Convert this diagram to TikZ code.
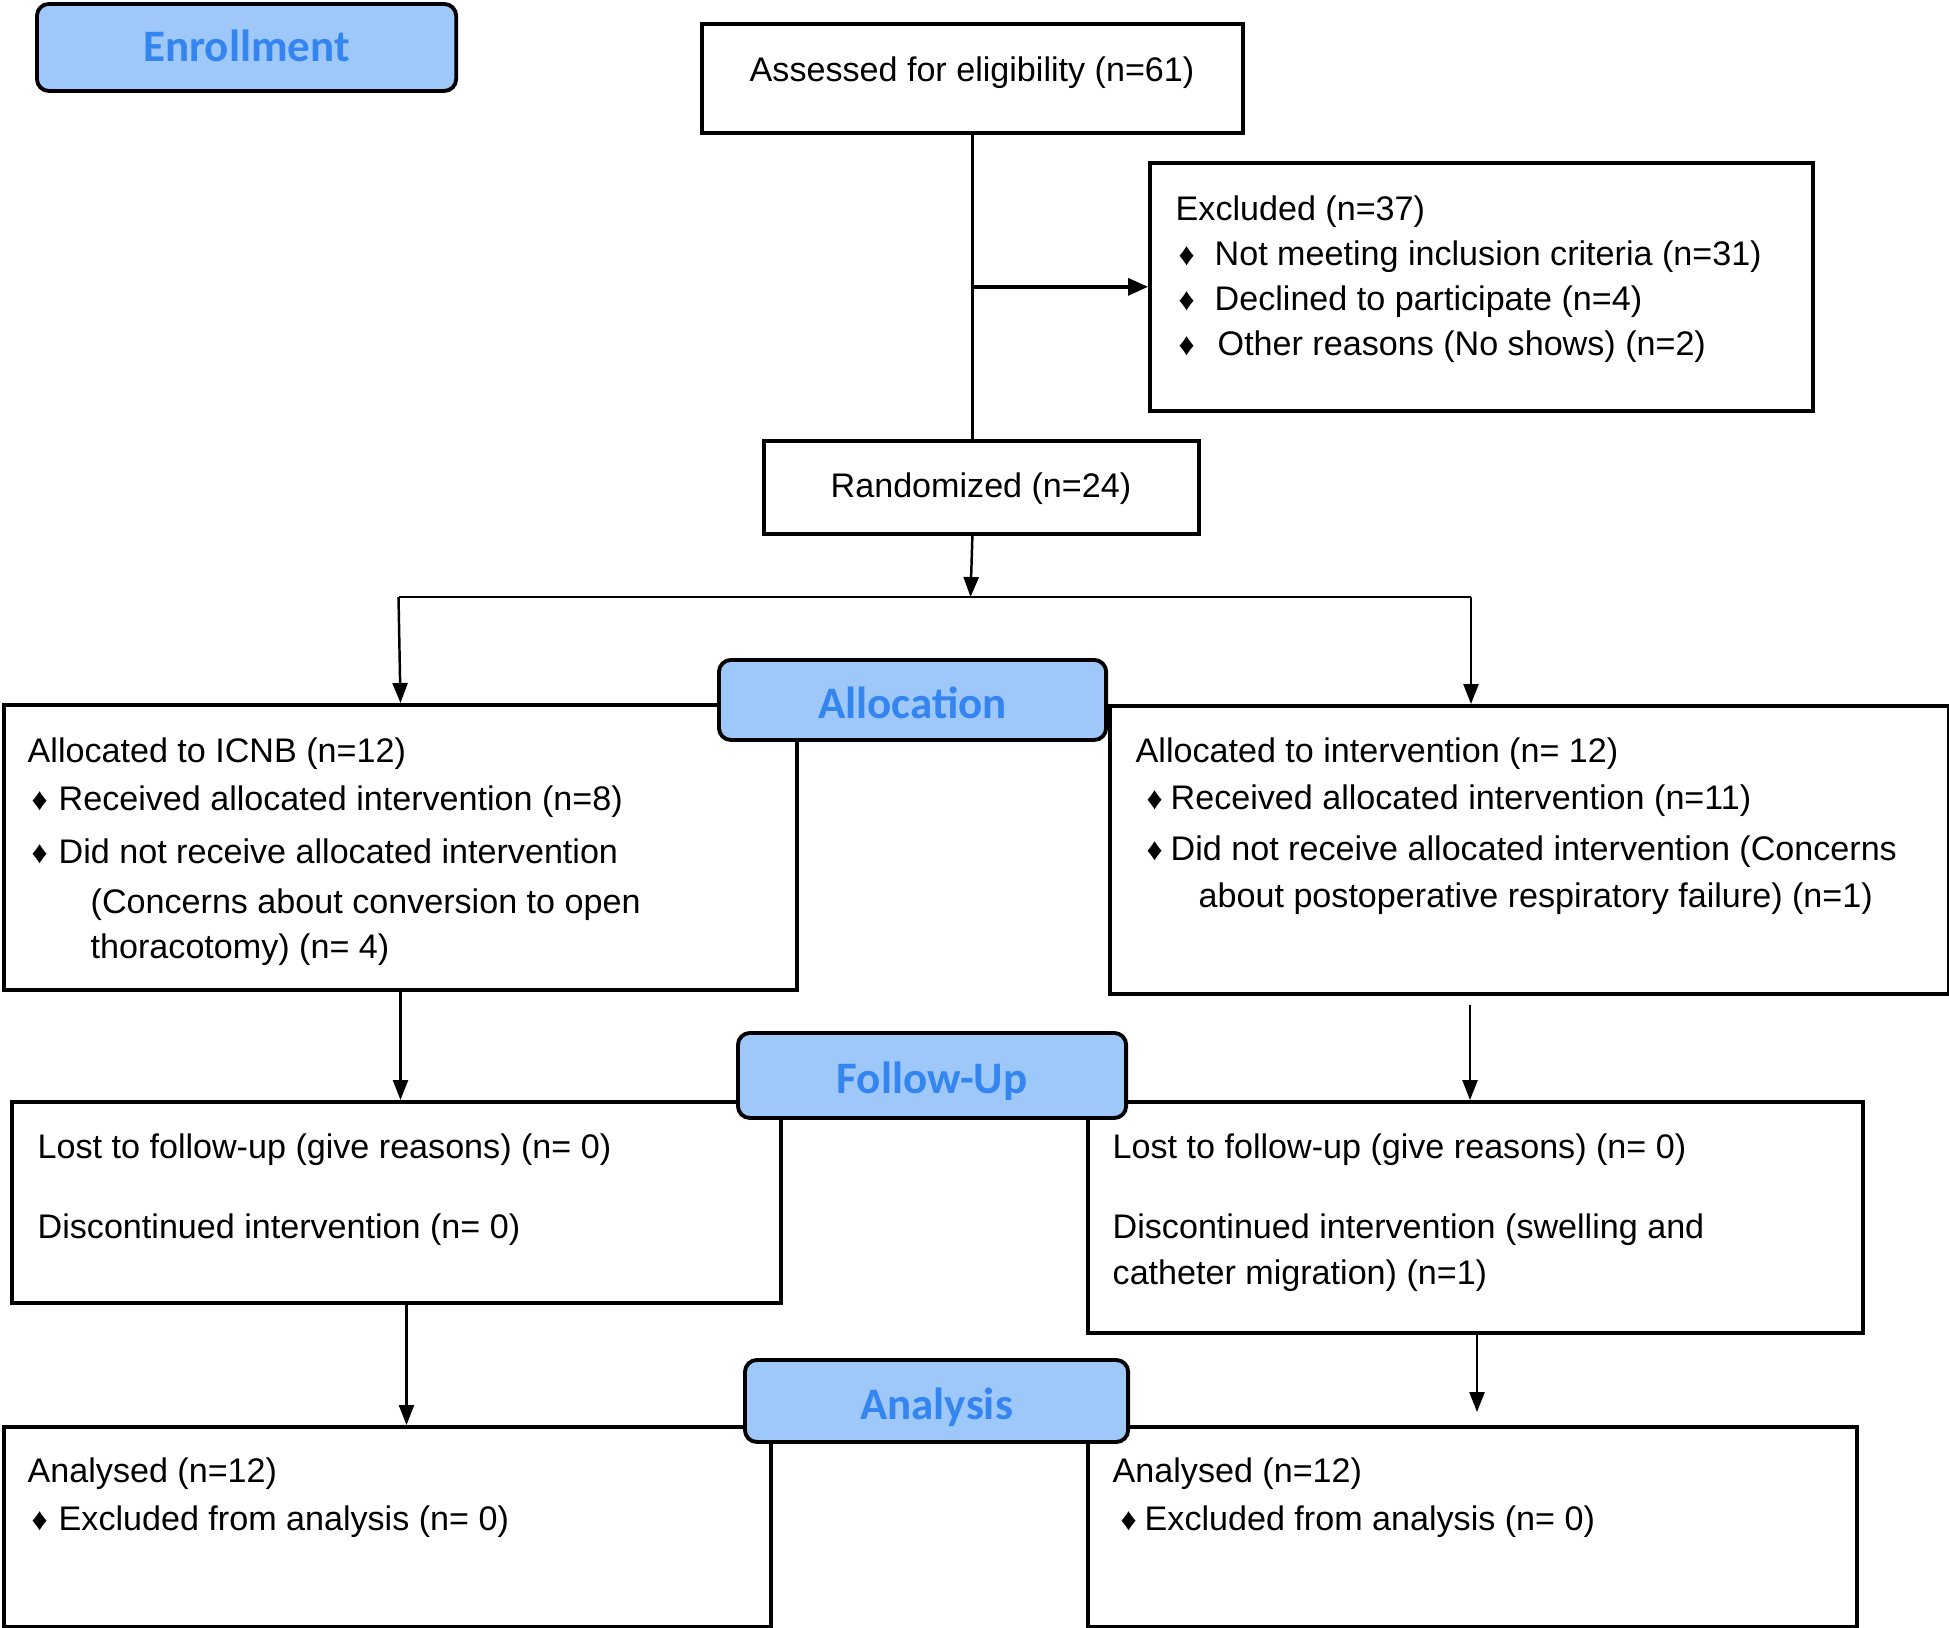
\documentclass[tikz,border=0pt]{standalone}
\usepackage{fontspec}
\setmainfont{Liberation Sans}
\newfontfamily\labfont{Carlito}
\usetikzlibrary{arrows.meta}
\definecolor{labfill}{RGB}{158,199,250}
\definecolor{labtext}{RGB}{52,133,240}
\tikzset{
 box/.style={draw, line width=1pt, rectangle, anchor=north west, inner sep=0, fill=white},
 lab/.style={draw, line width=1.1pt, rounded corners=0.12cm, fill=labfill, text=labtext, anchor=north west, font=\labfont\bfseries\fontsize{12.8}{14}\selectfont, inner sep=0, text height=0.37cm, text depth=0pt},
 txt/.style={anchor=base west, inner sep=0, font=\fontsize{9.7}{11.6}\selectfont},
 bul/.style={anchor=base west, inner sep=0, font=\fontsize{9}{10}\selectfont},
 conn/.style={line width=0.7pt},
 arr/.style={conn, -{Triangle[length=0.2cm,width=0.15cm]}},
 arrx/.style={line width=1pt, -{Triangle[length=0.2cm,width=0.17cm]}},
}
\newcommand\mytext[4]{\node[txt] (#1) at (#2,#3) {#4};}
\newcommand\mybul[3]{\node[bul] (#1) at (#2,#3) {♦};}
\begin{document}
\begin{tikzpicture}[x=0.01cm,y=-0.01cm]
\useasboundingbox (0,0) rectangle (1949,1627);
% boxes
\node[box, minimum width=5.41cm, minimum height=1.09cm] (assess) at (700,22) {};
\node[box, minimum width=6.63cm, minimum height=2.48cm] (excl) at (1148,161) {};
\node[box, minimum width=4.35cm, minimum height=0.93cm] (rand) at (762,439) {};
\node[box, minimum width=7.93cm, minimum height=2.85cm] (allocL) at (2,703) {};
\node[box, minimum width=8.38cm, minimum height=2.88cm] (allocR) at (1108,704) {};
\node[box, minimum width=7.69cm, minimum height=2.01cm] (fuL) at (10,1100) {};
\node[box, minimum width=7.75cm, minimum height=2.31cm] (fuR) at (1086,1100) {};
\node[box, minimum width=7.67cm, minimum height=2.00cm] (anL) at (2,1425) {};
\node[box, minimum width=7.69cm, minimum height=2.00cm] (anR) at (1086,1425) {};
% texts
\mytext{t1}{749}{81}{Assessed for eligibility (n=61)}
\mytext{t2}{1175}{220}{Excluded (n=37)}
\mybul{b1}{1178}{265}\mytext{t3}{1214}{265}{Not meeting inclusion criteria (n=31)}
\mybul{b2}{1178}{310}\mytext{t4}{1214}{310}{Declined to participate (n=4)}
\mybul{b3}{1178}{355}\mytext{t5}{1217}{355}{Other reasons (No shows) (n=2)}
\mytext{t6}{830}{497}{Randomized (n=24)}
\mytext{t7}{27}{762}{Allocated to ICNB (n=12)}
\mybul{b4}{31}{810}\mytext{t8}{58}{810}{Received allocated intervention (n=8)}
\mybul{b5}{31}{863}\mytext{t9}{58}{863}{Did not receive allocated intervention}
\mytext{t10}{90}{913}{(Concerns about conversion to open}
\mytext{t11}{90}{958}{thoracotomy) (n= 4)}
\mytext{t12}{1135}{762}{Allocated to intervention (n= 12)}
\mybul{b6}{1146}{809}\mytext{t13}{1170}{809}{Received allocated intervention (n=11)}
\mybul{b7}{1146}{860}\mytext{t14}{1170}{860}{Did not receive allocated intervention (Concerns}
\mytext{t15}{1198}{907}{about postoperative respiratory failure) (n=1)}
\mytext{t16}{37}{1158}{Lost to follow-up (give reasons) (n= 0)}
\mytext{t17}{37}{1238}{Discontinued intervention (n= 0)}
\mytext{t18}{1112}{1158}{Lost to follow-up (give reasons) (n= 0)}
\mytext{t19}{1112}{1238}{Discontinued intervention (swelling and}
\mytext{t20}{1112}{1284}{catheter migration) (n=1)}
\mytext{t21}{27}{1482}{Analysed (n=12)}
\mybul{b8}{31}{1530}\mytext{t22}{58}{1530}{Excluded from analysis (n= 0)}
\mytext{t23}{1112}{1482}{Analysed (n=12)}
\mybul{b9}{1120}{1530}\mytext{t24}{1144}{1530}{Excluded from analysis (n= 0)}
% connectors
\draw[conn] (assess.south) -- (assess.south |- rand.north);
\coordinate (br) at (assess.south |- excl.west);
\draw[arrx] (br) -- (excl.west);
\coordinate (sp) at (rand.south -| assess.south);
\coordinate (spm) at (970.5,597);
\coordinate (spL) at (398.5,597);
\coordinate (spR) at (1471,597);
\draw[arr] (sp) -- (spm);
\draw[conn] (spL) -- (spR);
\draw[arr] (spL) -- (allocL.north);
\draw[arr] (spR) -- (spR |- allocR.north);
\draw[arr] (allocL.south) -- (allocL.south |- fuL.north);
\coordinate (r2) at (1470,1005);
\draw[arr] (r2) -- (r2 |- fuR.north);
\draw[arr] ([xshift=0.1cm]fuL.south) -- ([xshift=0.1cm]fuL.south |- anL.north);
\coordinate (r3s) at (1477,1335);
\coordinate (r3e) at (1477,1412);
\draw[arr] (r3s) -- (r3e);
% stage labels
\node[lab, text height=0.29cm, minimum width=4.19cm, minimum height=0.87cm] (enr) at (35,2) {Enrollment};
\node[lab, minimum width=3.87cm, minimum height=0.80cm] (alloc) at (717,658) {Allocation};
\node[lab, minimum width=3.88cm, minimum height=0.85cm] (fu) at (736,1031) {Follow-Up};
\node[lab, minimum width=3.83cm, minimum height=0.82cm] (an) at (743,1358) {Analysis};
\end{tikzpicture}
\end{document}
